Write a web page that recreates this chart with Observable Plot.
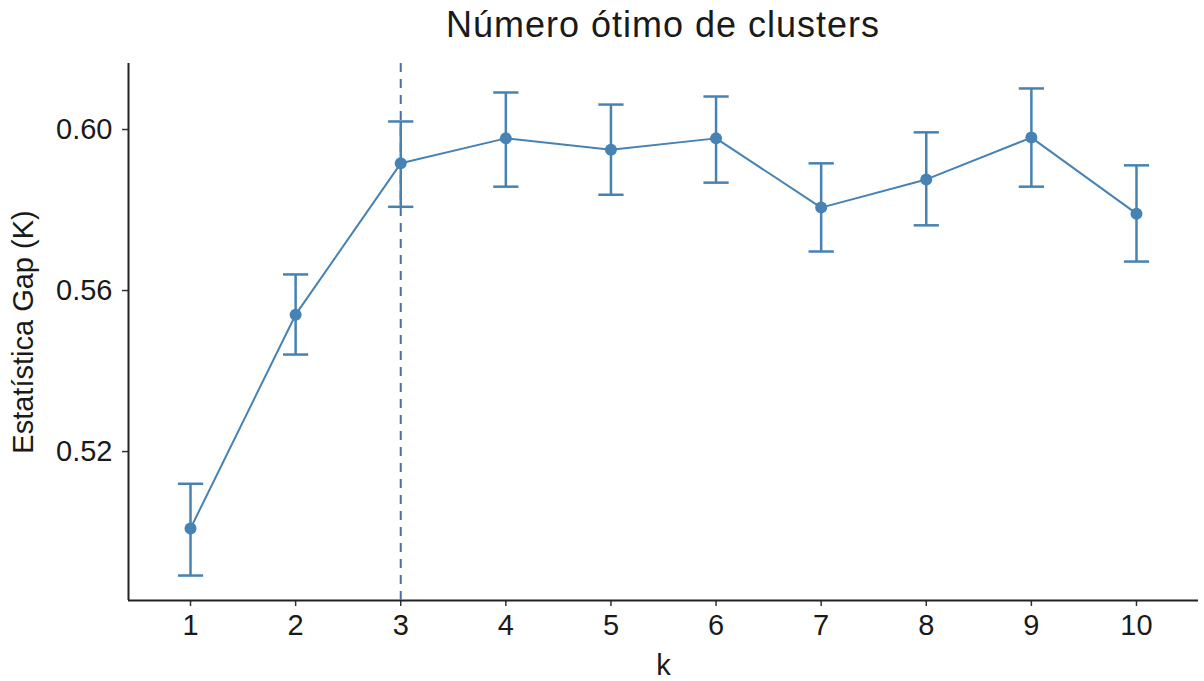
<!DOCTYPE html>
<html>
<head>
<meta charset="utf-8">
<script src="https://cdn.jsdelivr.net/npm/d3@7"></script>
<script src="https://cdn.jsdelivr.net/npm/@observablehq/plot@0.6"></script>
<style>
  html, body { margin: 0; padding: 0; background: #fff; }
  #title {
    font-family: "Liberation Sans", Arial, sans-serif;
    font-size: 36px;
    letter-spacing: 1px;
    color: #1a1a1a;
    height: 56px;
    line-height: 49px;
    margin-left: 128px;
    width: 1070px;
    text-align: center;
  }
  #chart svg { display: block; }
</style>
</head>
<body>
<div id="title">Número ótimo de clusters</div>
<div id="chart"></div>
<script>
// Gap statistic by number of clusters k, with ±1 SE error bars
const k      = [1, 2, 3, 4, 5, 6, 7, 8, 9, 10];
const gap    = [0.5009, 0.5540, 0.5916, 0.5978, 0.5950, 0.5978, 0.5806, 0.5876, 0.5980, 0.5791];
const gapMin = [0.4892, 0.5441, 0.5808, 0.5858, 0.5838, 0.5868, 0.5697, 0.5762, 0.5858, 0.5672];
const gapMax = [0.5120, 0.5640, 0.6020, 0.6092, 0.6062, 0.6082, 0.5916, 0.5993, 0.6102, 0.5911];
const optimalK = 3;
const yTicks = [0.52, 0.56, 0.60];

const rows = k.map((kk, i) => ({k: kk, gap: gap[i], lo: gapMin[i], hi: gapMax[i]}));
const capHalf = 0.12;
const xDomain = [0.41, 10.59];
const yDomain = [0.4830, 0.6164];
const color = "steelblue";

const chart = Plot.plot({
  width: 1204,
  height: 625,
  marginTop: 7,
  marginBottom: 81,
  marginLeft: 128,
  marginRight: 6,
  style: {fontFamily: "Liberation Sans, Arial, sans-serif", fontSize: "29px", color: "#1a1a1a", background: "#fff"},
  x: {domain: xDomain},
  y: {domain: yDomain},
  marks: [
    Plot.axisX({ticks: k, tickSize: 6, tickPadding: 8, tickFormat: d => String(d),
                label: "k", labelAnchor: "center", labelArrow: "none", labelOffset: 74, stroke: "#333", strokeWidth: 1.5}),
    Plot.axisY({ticks: yTicks, tickSize: 6, tickPadding: 10, tickFormat: d3.format(".2f"),
                label: "Estatística Gap (K)", labelAnchor: "center", labelArrow: "none", labelOffset: 116, stroke: "#333", strokeWidth: 1.5}),
    Plot.ruleX([xDomain[0]], {stroke: "#222", strokeWidth: 2}),
    Plot.ruleY([yDomain[0]], {stroke: "#222", strokeWidth: 2}),
    Plot.ruleX([optimalK], {stroke: "#4a6fa5", strokeWidth: 2, strokeDasharray: "9,7"}),
    Plot.ruleX(rows, {x: "k", y1: "lo", y2: "hi", stroke: color, strokeWidth: 2.5}),
    Plot.link(rows, {x1: d => d.k - capHalf, x2: d => d.k + capHalf, y1: "lo", y2: "lo", stroke: color, strokeWidth: 2.5}),
    Plot.link(rows, {x1: d => d.k - capHalf, x2: d => d.k + capHalf, y1: "hi", y2: "hi", stroke: color, strokeWidth: 2.5}),
    Plot.line(rows, {x: "k", y: "gap", stroke: color, strokeWidth: 2}),
    Plot.dot(rows, {x: "k", y: "gap", r: 6, fill: color, stroke: "none"})
  ]
});
document.getElementById("chart").appendChild(chart);
</script>
</body>
</html>
